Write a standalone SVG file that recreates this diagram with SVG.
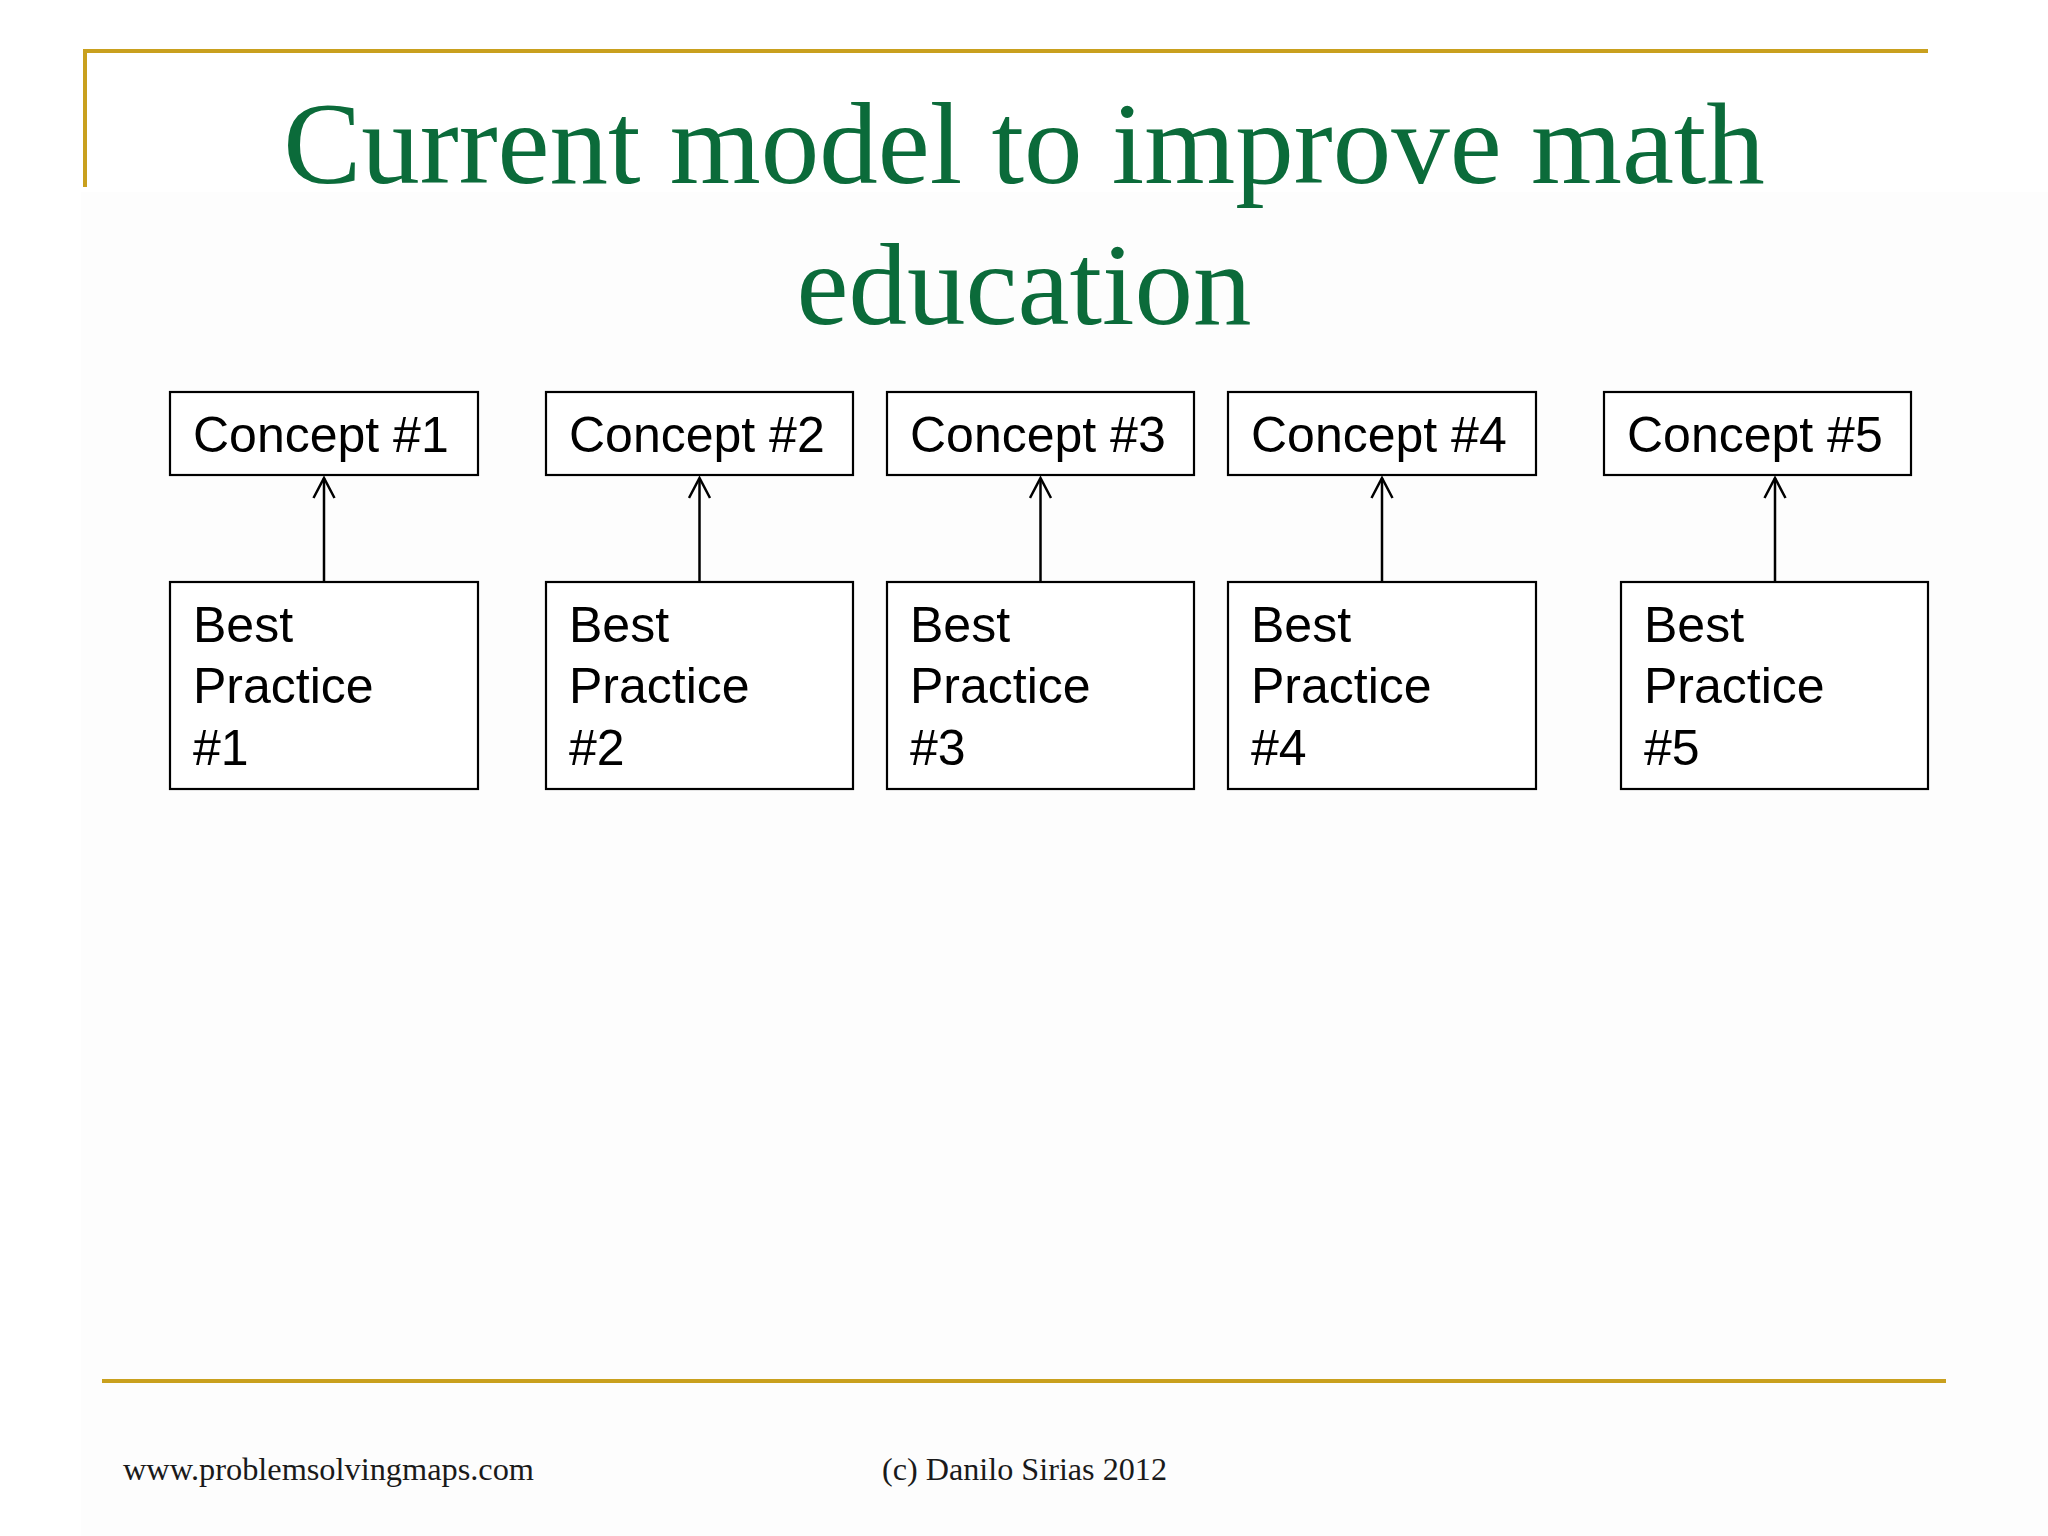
<svg xmlns="http://www.w3.org/2000/svg" width="2048" height="1536" viewBox="0 0 2048 1536">
<defs>
<style>
.box{fill:#ffffff;stroke:#000;stroke-width:2.2}
.lbl{font-family:"Liberation Sans",Arial,sans-serif;font-size:50px;fill:#000}
.title{font-family:"Liberation Serif","Times New Roman",serif;font-size:117px;fill:#0B6B3A}
.foot{font-family:"Liberation Serif","Times New Roman",serif;font-size:32px;fill:#1a1a1a}
.gold{stroke:#C9A01E;stroke-width:4;fill:none}
.conn{stroke:#000;stroke-width:2.5;fill:none}
</style>
<marker id="arr" viewBox="0 0 24 24" refX="22" refY="12" markerWidth="24" markerHeight="24" markerUnits="userSpaceOnUse" orient="auto">
<path d="M2,1.5 L22,12 L2,22.5" fill="none" stroke="#000" stroke-width="2.5"/>
</marker>
</defs>
<rect x="0" y="0" width="2048" height="1536" fill="#ffffff"/>
<rect x="81" y="192" width="1967" height="1344" fill="#fdfdfd"/>
<g id="frame">
<path class="gold" d="M85,187 L85,51 L1928,51"/>
<line class="gold" x1="102" y1="1381" x2="1946" y2="1381"/>
</g>
<g id="title">
<text class="title" x="1024" y="183" text-anchor="middle">Current model to improve math</text>
<text class="title" x="1024" y="324" text-anchor="middle">education</text>
</g>
<g id="connectors">
<line class="conn" x1="324" y1="583" x2="324" y2="478" marker-end="url(#arr)"/>
<line class="conn" x1="699.5" y1="583" x2="699.5" y2="478" marker-end="url(#arr)"/>
<line class="conn" x1="1040.5" y1="585" x2="1040.5" y2="478" marker-end="url(#arr)"/>
<line class="conn" x1="1382" y1="586" x2="1382" y2="478" marker-end="url(#arr)"/>
<line class="conn" x1="1775" y1="586" x2="1775" y2="478" marker-end="url(#arr)"/>
</g>
<g id="concept1"><rect class="box" x="170" y="392" width="308" height="83"/><text class="lbl" x="193" y="452">Concept #1</text></g>
<g id="concept2"><rect class="box" x="546" y="392" width="307" height="83"/><text class="lbl" x="569" y="452">Concept #2</text></g>
<g id="concept3"><rect class="box" x="887" y="392" width="307" height="83"/><text class="lbl" x="910" y="452">Concept #3</text></g>
<g id="concept4"><rect class="box" x="1228" y="392" width="308" height="83"/><text class="lbl" x="1251" y="452">Concept #4</text></g>
<g id="concept5"><rect class="box" x="1604" y="392" width="307" height="83"/><text class="lbl" x="1627" y="452">Concept #5</text></g>
<g id="practice1"><rect class="box" x="170" y="582" width="308" height="207"/><text class="lbl" x="193" y="642">Best<tspan x="193" y="703">Practice</tspan><tspan x="193" y="765">#1</tspan></text></g>
<g id="practice2"><rect class="box" x="546" y="582" width="307" height="207"/><text class="lbl" x="569" y="642">Best<tspan x="569" y="703">Practice</tspan><tspan x="569" y="765">#2</tspan></text></g>
<g id="practice3"><rect class="box" x="887" y="582" width="307" height="207"/><text class="lbl" x="910" y="642">Best<tspan x="910" y="703">Practice</tspan><tspan x="910" y="765">#3</tspan></text></g>
<g id="practice4"><rect class="box" x="1228" y="582" width="308" height="207"/><text class="lbl" x="1251" y="642">Best<tspan x="1251" y="703">Practice</tspan><tspan x="1251" y="765">#4</tspan></text></g>
<g id="practice5"><rect class="box" x="1621" y="582" width="307" height="207"/><text class="lbl" x="1644" y="642">Best<tspan x="1644" y="703">Practice</tspan><tspan x="1644" y="765">#5</tspan></text></g>
<g id="footer">
<text class="foot" x="123" y="1480" textLength="411" lengthAdjust="spacingAndGlyphs">www.problemsolvingmaps.com</text>
<text class="foot" x="882" y="1480" textLength="285" lengthAdjust="spacingAndGlyphs">(c) Danilo Sirias 2012</text>
</g>
</svg>
